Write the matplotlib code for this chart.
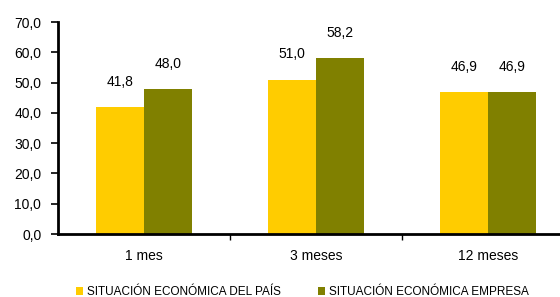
import matplotlib
matplotlib.use("Agg")
import matplotlib.pyplot as plt
import numpy as np

categories = ["1 mes", "3 meses", "12 meses"]
pais = [41.8, 51.0, 46.9]
empresa = [48.0, 58.2, 46.9]
series_names = ["SITUACIÓN ECONÓMICA DEL PAÍS", "SITUACIÓN ECONÓMICA EMPRESA"]
yticks = [0, 10, 20, 30, 40, 50, 60, 70]

plt.rcParams['font.family'] = ['Liberation Sans', 'DejaVu Sans']

fig = plt.figure(figsize=(5.6, 2.97), dpi=100)
ax = fig.add_axes([58/560, 1-234/297, 1-58/560, (234-22)/297])

x = np.arange(len(categories))
w = 0.28
b1 = ax.bar(x - w/2, pais, w, color="#FFCC00", label=series_names[0])
b2 = ax.bar(x + w/2, empresa, w, color="#808000", label=series_names[1])

def fmt(v):
    return f"{v:.1f}".replace(".", ",")

for bars, vals in ((b1, pais), (b2, empresa)):
    for r, v in zip(bars, vals):
        ax.annotate(fmt(v), (r.get_x() + r.get_width()/2, v), xytext=(0, 13),
                    textcoords="offset points", ha="center", va="bottom", fontsize=10)

ax.set_ylim(0, 70)
ax.set_xlim(-0.5, 2.5 - 14/172)
ax.set_yticks(yticks)
ax.set_yticklabels([fmt(v) for v in yticks], fontsize=10)
ax.set_xticks(x)
ax.set_xticklabels(categories, fontsize=10)
ax.tick_params(axis='x', length=0, pad=11)
ax.set_xticks([0.5, 1.5], minor=True)
ax.tick_params(axis='x', which='minor', length=4, width=1, direction='out')
ax.tick_params(axis='y', length=5, width=1.2, direction='out', pad=7)
for s in ("top", "right"):
    ax.spines[s].set_visible(False)
for s in ("left", "bottom"):
    ax.spines[s].set_linewidth(2)

leg = fig.legend(handles=[b1, b2], loc="center", bbox_to_anchor=(0.54, 1-292/297),
                 ncol=2, frameon=False, fontsize=8.5, handlelength=0.6, handleheight=0.6,
                 handletextpad=0.3, columnspacing=3.2, borderaxespad=0, borderpad=0)

fig.savefig("out.png", dpi=100)
